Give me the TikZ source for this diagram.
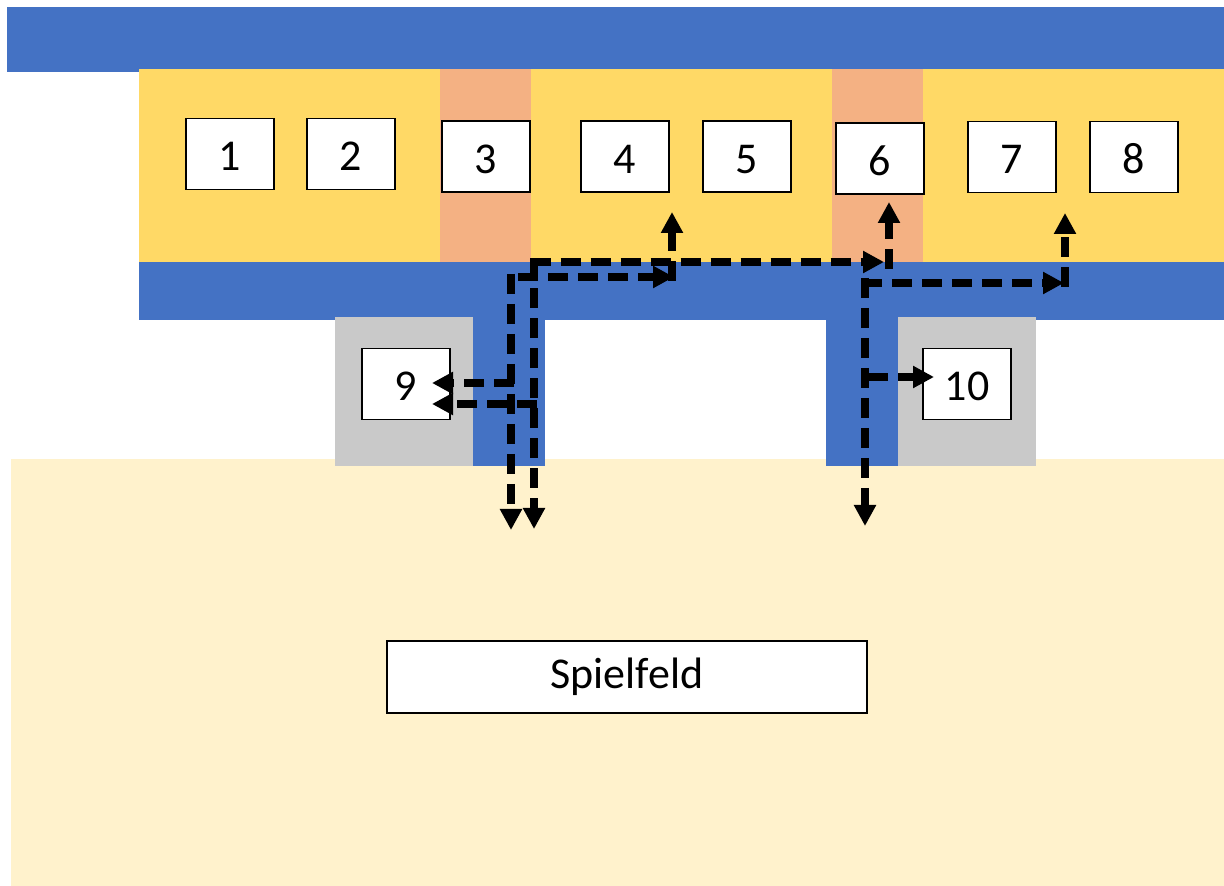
\documentclass[tikz,border=0pt]{standalone}
\usepackage{fontspec}
\setmainfont{Carlito}
\usetikzlibrary{arrows.meta}
\definecolor{cblue}{HTML}{4472C4}
\definecolor{cyellow}{HTML}{FFD966}
\definecolor{csalmon}{HTML}{F4B183}
\definecolor{cgrey}{HTML}{C9C9C9}
\definecolor{cfield}{HTML}{FFF2CC}
\begin{document}
\begin{tikzpicture}[x=0.5pt,y=-0.5pt,
  area/.style={fill=#1,draw=none},
  room/.style={draw=black,fill=white,line width=0.8pt,minimum width=44pt,minimum height=35.5pt,inner sep=0pt,text height=16.9pt,text depth=0pt,font=\fontsize{22}{26}\selectfont},
  field/.style={draw=black,fill=white,line width=0.8pt,inner sep=0pt,font=\fontsize{22}{26}\selectfont,minimum width=240pt,minimum height=36pt},
  flow/.style={line width=3.6pt,dash pattern=on 10pt off 5pt,-{Triangle[length=10.5pt,width=10.5pt]}}]
\useasboundingbox (0,0) rectangle (1224,886);
% areas
\fill[area=cfield] (11,459) rectangle (1224,886);
\fill[area=cblue] (7,7) rectangle (1224,72);
\fill[area=cyellow] (139,69) rectangle (1224,262);
\fill[area=csalmon] (440,69) rectangle (531,262);
\fill[area=csalmon] (832,69) rectangle (923,262);
\fill[area=cblue] (139,262) rectangle (1224,320);
\fill[area=cblue] (473,318) rectangle (545,466);
\fill[area=cblue] (826,318) rectangle (898,466);
\fill[area=cgrey] (335,317) rectangle (473,466);
\fill[area=cgrey] (898,317) rectangle (1036,466);
% rooms
\node[room] (b1) at (230,154) {1};
\node[room] (b2) at (351,154) {2};
\node[room] (b3) at (486,156.5) {3};
\node[room] (b4) at (625,156.5) {4};
\node[room] (b5) at (747,156.5) {5};
\node[room] (b6) at (880,158.5) {6};
\node[room] (b7) at (1012,157) {7};
\node[room] (b8) at (1134,157) {8};
\node[room] (b9) at (406,384) {9};
\node[room] (b10) at (967,384) {10};
\node[field] (spf) at (627,677) {Spielfeld};
% route coordinates
\coordinate (a1s) at (511,274);
\coordinate (a1e) at (511,530);
\coordinate (a2s) at (518,277);
\coordinate (a2e) at (674,277);
\coordinate (a2u) at (672,281);
\coordinate (a2t) at (672,212);
\coordinate (a3s) at (534,258.5);
\coordinate (a3e) at (534,529);
\coordinate (a4s) at (530.5,262);
\coordinate (a4e) at (884,262);
\coordinate (a4u) at (889,269);
\coordinate (a4t) at (889,202);
\coordinate (a5s) at (514,383);
\coordinate (a5e) at (432,383);
\coordinate (a6s) at (537,404);
\coordinate (a6e) at (432,404);
\coordinate (a7s) at (865,278);
\coordinate (a7e) at (865,526);
\coordinate (a8s) at (862,283);
\coordinate (a8e) at (1064,283);
\coordinate (a8u) at (1065,287);
\coordinate (a8t) at (1065,213);
\coordinate (a9s) at (868,377);
\coordinate (a9e) at (934,377);
% flows
\draw[flow] (a1s) -- (a1e);
\draw[flow] (a2s) -- (a2e);
\draw[flow] (a2u) -- (a2t);
\draw[flow] (a3s) -- (a3e);
\draw[flow] (a4s) -- (a4e);
\draw[flow] (a4u) -- (a4t);
\draw[flow] (a5s) -- (a5e);
\draw[flow] (a6s) -- (a6e);
\draw[flow] (a7s) -- (a7e);
\draw[flow] (a8s) -- (a8e);
\draw[flow] (a8u) -- (a8t);
\draw[flow] (a9s) -- (a9e);
\end{tikzpicture}
\end{document}
